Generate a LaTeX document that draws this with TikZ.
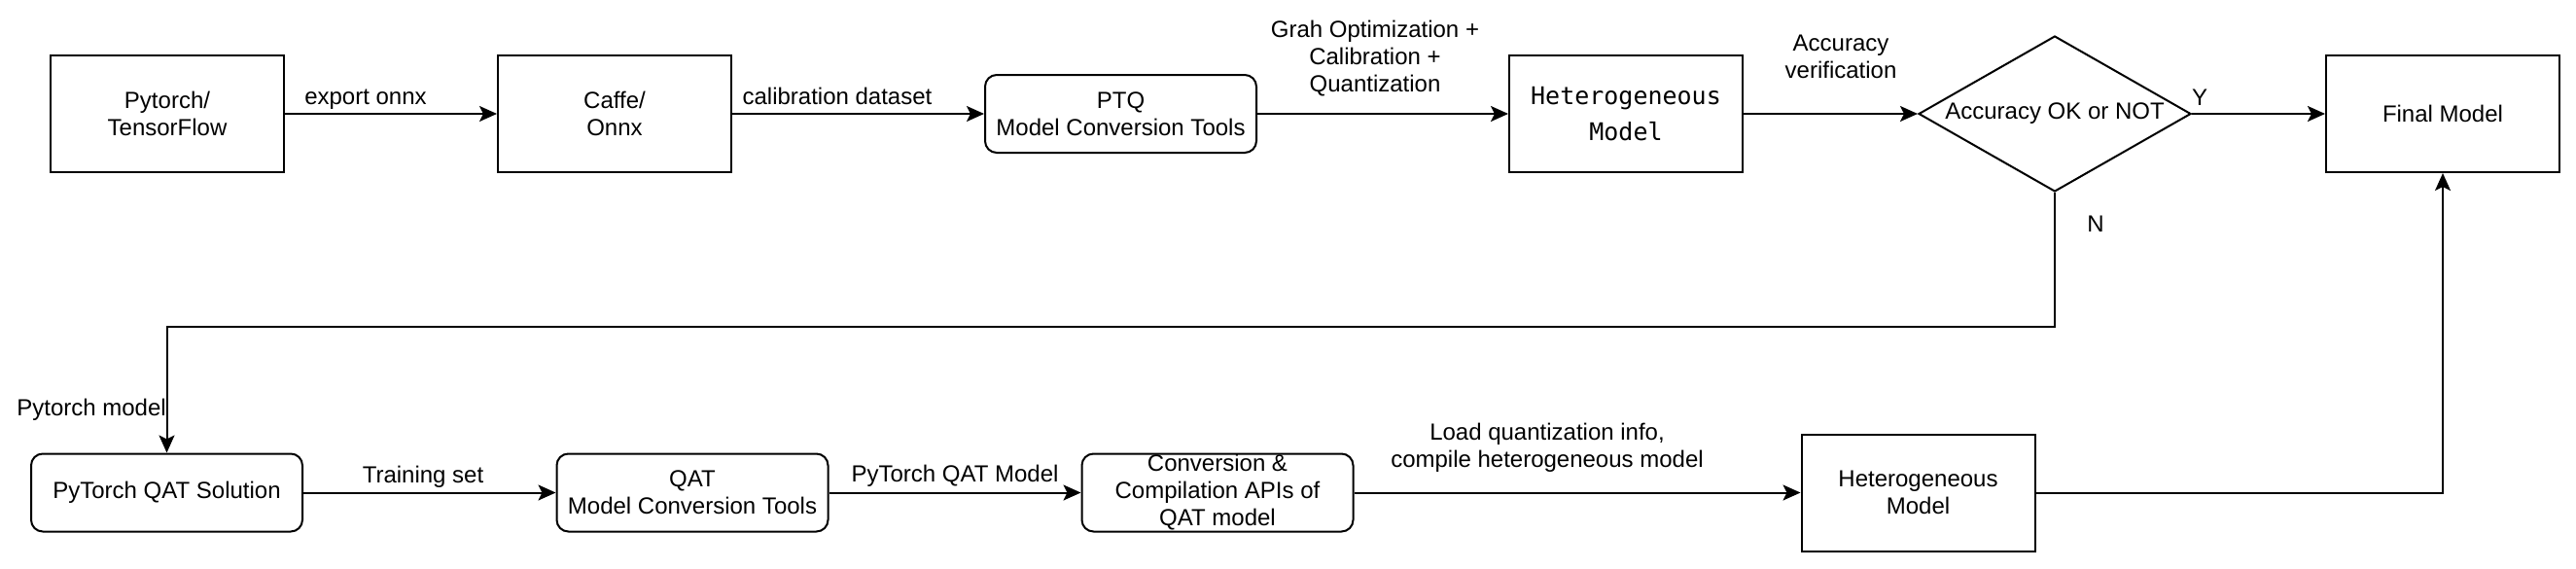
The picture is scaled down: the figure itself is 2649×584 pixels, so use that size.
\documentclass[tikz,border=0pt]{standalone}
\usepackage{fontspec}
\setmainfont{Liberation Sans}
\newfontfamily\monofnt{DejaVu Sans Mono}
\usetikzlibrary{arrows.meta,shapes.geometric}
\begin{document}
\begin{tikzpicture}[x=1pt,y=-1pt,
  every node/.style={font=\fontsize{24}{28}\selectfont},
  box/.style={draw, line width=2pt, minimum width=240pt, minimum height=120pt, inner sep=0pt, align=center},
  rbox/.style={draw, line width=2pt, rounded corners=12pt, minimum width=279pt, minimum height=80pt, inner sep=0pt, align=center},
  conn/.style={line width=2pt, -{Stealth[length=18pt,width=16pt,inset=4pt]}},
  lbl/.style={anchor=base, inner sep=0pt, align=center},
  mlbl/.style={anchor=center, inner sep=0pt, align=center}]
\useasboundingbox (0,0) rectangle (2649,584);
\fill[white] (0,0) rectangle (2649,584);

% top row
\node[box] (ptf) at (172,117) {Pytorch/\\TensorFlow};
\node[box] (caffe) at (632,117) {Caffe/\\Onnx};
\node[rbox] (ptq) at (1152.5,117) {PTQ\\Model Conversion Tools};
\node[box, font=\monofnt\fontsize{25}{37}\selectfont] (hetA) at (1672,117) {Heterogeneous\\Model};
\node[draw, line width=2pt, diamond, aspect=1.75, minimum width=280pt, minimum height=160pt, inner sep=0pt] (dec) at (2113,117) {Accuracy OK or NOT};
\node[box] (final) at (2512,117) {Final Model};

% bottom row
\node[rbox] (qats) at (171.5,506.5) {PyTorch QAT Solution};
\node[rbox] (qat) at (712,506.5) {QAT\\Model Conversion Tools};
\node[rbox] (conv) at (1252,506.5) {Conversion \&\\Compilation APIs of\\QAT model};
\node[box] (hetB) at (1972.5,506.5) {Heterogeneous\\Model};

\coordinate (nturn) at (2113,336);

% connectors
\draw[conn] (ptf.east) -- (caffe.west);
\draw[conn] (caffe.east) -- (ptq.west);
\draw[conn] (ptq.east) -- (hetA.west);
\draw[conn] (hetA.east) -- (dec.west);
\draw[conn] (dec.east) -- (final.west);
\draw[conn] (dec.south) -- (nturn) -| (qats.north);
\draw[conn] (qats.east) -- (qat.west);
\draw[conn] (qat.east) -- (conv.west);
\draw[conn] (conv.east) -- (hetB.west);
\draw[conn] (hetB.east) -| (final.south);

% labels
\node[lbl] (l1) at (376,107) {export onnx};
\node[lbl] (l2) at (861,107) {calibration dataset};
\node[mlbl] (l3) at (1414,60) {Grah Optimization +\\Calibration +\\Quantization};
\node[mlbl] (l4) at (1893,58) {Accuracy\\verification};
\node[lbl] (ly) at (2262,108) {Y};
\node[lbl] (ln) at (2155,238) {N};
\node[lbl, anchor=base east] (l5) at (171,427) {Pytorch model};
\node[lbl] (l6) at (435,496) {Training set};
\node[lbl] (l7) at (982,495) {PyTorch QAT Model};
\node[mlbl] (l8) at (1591,460) {Load quantization info,\\compile heterogeneous model};
\end{tikzpicture}
\end{document}
